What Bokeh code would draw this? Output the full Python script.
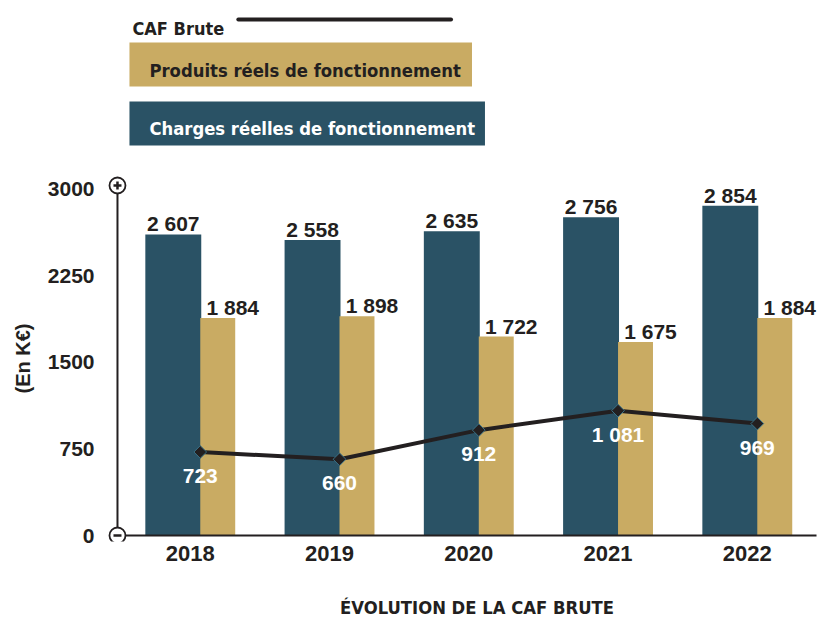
import math
from bokeh.plotting import figure
from bokeh.models import ColumnDataSource, Range1d, FixedTicker, LabelSet, Title
from bokeh.layouts import column
from bokeh.transform import dodge
from bokeh.core.properties import value
from bokeh.embed import file_html
from bokeh.resources import INLINE

# ---- data ----
years = [2018, 2019, 2020, 2021, 2022]
charges = [2607, 2558, 2635, 2756, 2854]
produits = [1884, 1898, 1722, 1675, 1884]
caf = [723, 660, 912, 1081, 969]
y_ticks = [0, 750, 1500, 2250, 3000]

legend_caf = "CAF Brute"
legend_produits = "Produits réels de fonctionnement"
legend_charges = "Charges réelles de fonctionnement"
y_title = "(En K€)"
chart_title = "ÉVOLUTION DE LA CAF BRUTE"

# ---- style ----
TEAL = "#2a5265"
GOLD = "#c9ab63"
DARK = "#231f20"
EDGE = "#3b7287"
COND = "DejaVu Sans Condensed"
NUM = "Liberation Sans"

W, H = 832, 618
TITLE_H = 28
FL, FR, FT, FB = 100, 822, 0, 541   # frame edges in page pixels

# layout helpers (page pixel -> plot coordinates, for decorations only)
X0, XS = 188.9, 139.45   # page x of first category, px per category
Y0, YS = 535.0, 0.1155   # page y of value 0, px per unit


def dx(px):
    return years[0] + (px - X0) / XS


def dy(py):
    return (Y0 - py) / YS


def fmt(v):
    return f"{v:,}".replace(",", " ")


PH = H - TITLE_H
p = figure(width=W, height=PH,
           x_range=Range1d(dx(FL), dx(FR)), y_range=Range1d(dy(FB), dy(FT)),
           toolbar_location=None, output_backend="svg",
           min_border_left=FL, min_border_right=W - FR, min_border_top=FT, min_border_bottom=PH - FB)
p.grid.visible = False
p.outline_line_color = None

# ---- legend (top) ----
p.text(x=[dx(131)], y=[dy(28)], text=[legend_caf], text_font=value(COND), text_font_style="bold",
       text_font_size="18px", text_baseline="alphabetic", text_color=DARK)
p.line(x=[dx(237), dx(450)], y=[dy(19), dy(19)], line_width=4, line_color=DARK, line_cap="round")
p.quad(left=[dx(128)], right=[dx(471)], top=[dy(42)], bottom=[dy(86)], fill_color=GOLD, line_color=None)
p.text(x=[dx(148)], y=[dy(70)], text=[legend_produits], text_font=value(COND), text_font_style="bold",
       text_font_size="18.3px", text_baseline="alphabetic", text_color=DARK)
p.quad(left=[dx(128)], right=[dx(484)], top=[dy(101)], bottom=[dy(145)], fill_color=TEAL, line_color=None)
p.text(x=[dx(148)], y=[dy(128)], text=[legend_charges], text_font=value(COND), text_font_style="bold",
       text_font_size="18.3px", text_baseline="alphabetic", text_color="white")

# ---- bars ----
src = ColumnDataSource(dict(
    year=years, charges=charges, produits=produits, caf=caf,
    charges_lbl=[fmt(v) for v in charges],
    produits_lbl=[fmt(v) for v in produits],
    caf_lbl=[fmt(v) for v in caf],
))

OFF_CH = -0.122
OFF_PR = 0.1972
OFF_MID = 0.0717

p.vbar(x=dodge("year", OFF_CH), top="charges", bottom=0, width=0.4016, source=src,
       fill_color=TEAL, line_color=None)
p.vbar(x=dodge("year", OFF_PR), top="produits", bottom=0, width=0.251, source=src,
       fill_color=GOLD, line_color=None)

# ---- axis decorations ----
axis_x = dx(116)
p.segment(x0=[axis_x], y0=[0], x1=[axis_x], y1=[dy(185)], line_width=2, line_color=DARK)
p.segment(x0=[axis_x], y0=[0], x1=[dx(816)], y1=[0], line_width=2, line_color=DARK)
p.scatter(x=[axis_x, axis_x], y=[dy(185), 0], size=16, marker="circle", fill_color="white",
          line_color=DARK, line_width=1.8)
p.scatter(x=[axis_x], y=[dy(185)], marker="cross", size=8, line_width=2.5, line_color=DARK)
p.scatter(x=[axis_x], y=[0], marker="dash", size=8, line_width=2.5, line_color=DARK)

# ---- CAF line ----
p.line(x=dodge("year", OFF_MID), y="caf", source=src, line_width=4, line_color=DARK)
p.scatter(x=dodge("year", OFF_MID), y="caf", source=src, marker="square", angle=math.pi / 4,
          size=9, fill_color=DARK, line_color=EDGE, line_width=1)

# ---- value labels ----
p.add_layout(LabelSet(x=dodge("year", OFF_CH), y="charges", text="charges_lbl", source=src,
                      text_align="center", text_baseline="alphabetic", y_offset=3,
                      text_font=value(NUM), text_font_style="bold", text_font_size="21px",
                      text_color=DARK))
p.add_layout(LabelSet(x=dodge("year", OFF_PR), y="produits", text="produits_lbl", source=src,
                      text_align="center", text_baseline="alphabetic", y_offset=3, x_offset=15,
                      text_font=value(NUM), text_font_style="bold", text_font_size="21px",
                      text_color=DARK))
p.add_layout(LabelSet(x=dodge("year", OFF_MID), y="caf", text="caf_lbl", source=src,
                      text_align="center", text_baseline="alphabetic", y_offset=-31,
                      text_font=value(NUM), text_font_style="bold", text_font_size="21px",
                      text_color="white"))

# ---- axes ----
p.yaxis.ticker = FixedTicker(ticks=y_ticks)
p.yaxis.axis_line_color = None
p.yaxis.major_tick_line_color = None
p.yaxis.minor_tick_line_color = None
p.yaxis.major_tick_out = 0
p.yaxis.major_tick_in = 0
p.yaxis.major_label_standoff = 7
p.yaxis.major_label_text_font = NUM
p.yaxis.major_label_text_font_style = "bold"
p.yaxis.major_label_text_font_size = "21px"
p.yaxis.major_label_text_color = DARK

p.xaxis.ticker = FixedTicker(ticks=years)
p.xaxis.axis_line_color = None
p.xaxis.major_tick_line_color = None
p.xaxis.minor_tick_line_color = None
p.xaxis.major_tick_out = 0
p.xaxis.major_tick_in = 0
p.xaxis.major_label_standoff = 4
p.xaxis.major_label_text_font = NUM
p.xaxis.major_label_text_font_style = "bold"
p.xaxis.major_label_text_font_size = "22px"
p.xaxis.major_label_text_color = DARK

# y-axis title, set lower than the frame centre as in the original
p.add_layout(Title(text=y_title, align="left", offset=FB - 393, vertical_align="middle", standoff=20,
                   text_font=NUM, text_font_style="bold", text_font_size="20px",
                   text_color=DARK), "left")

# ---- bottom strip with the chart title (shares the x scale) ----
t = figure(width=W, height=TITLE_H, x_range=p.x_range, y_range=Range1d(H, PH),
           toolbar_location=None, output_backend="svg", min_border=0,
           x_axis_location=None, y_axis_location=None)
t.grid.visible = False
t.outline_line_color = None
t.text(x=[dx(476)], y=[607], text=[chart_title], text_align="center", text_baseline="alphabetic",
       text_font=value(COND), text_font_style="bold", text_font_size="18.3px", text_color=DARK)

open("out.html", "w").write(file_html(column(p, t, spacing=0), INLINE))
